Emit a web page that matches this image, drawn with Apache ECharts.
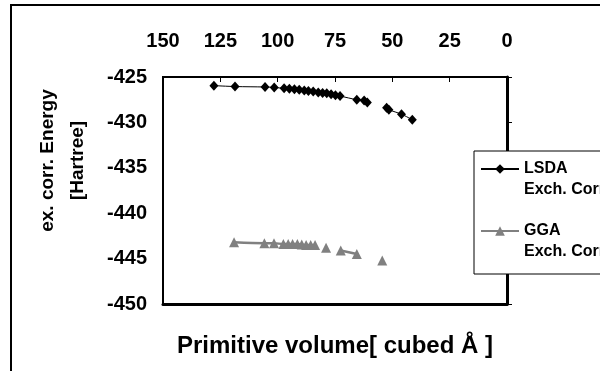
<!DOCTYPE html>
<html><head><meta charset="utf-8">
<script src="https://cdn.jsdelivr.net/npm/echarts@6/dist/echarts.min.js"></script>
<style>html,body{margin:0;padding:0;background:#fff}#c{width:600px;height:371px}</style>
</head><body><div id="c"></div>
<script>
// Axis ranges / ticks
const volumeMin = 0, volumeMax = 150, volumeStep = 25;
const energyMin = -450, energyMax = -425, energyStep = 5;

// Series names
const lsdaName = 'LSDA Exch. Corr.';
const ggaName = 'GGA Exch. Corr.';

// LSDA exchange-correlation energy vs primitive volume (null = gap in line)
const lsdaVolume = [127.8, 118.6, 105.5, 101.5, 97.2, 94.9, 92.7, 90.6, 88.4, 86.6, 84.5, 82.3, 80.4, 78.6, 76.7, 74.8, 72.8, 65.5, 62.3, 60.9, null, 52.5, 51.5, 46.0, 41.3];
const lsdaEnergy = [-425.95, -426.05, -426.1, -426.15, -426.25, -426.3, -426.35, -426.4, -426.5, -426.55, -426.6, -426.7, -426.75, -426.8, -426.9, -427.0, -427.1, -427.5, -427.6, -427.8, null, -428.4, -428.6, -429.1, -429.7];

// GGA exchange-correlation energy vs primitive volume (null = gap in line)
const ggaVolume = [119.0, 105.8, 101.6, 97.5, 95.4, 93.5, 91.4, 89.5, 87.6, 85.6, 83.7, null, 78.9, null, 72.5, 65.5, null, 54.4];
const ggaEnergy = [-443.2, -443.3, -443.3, -443.4, -443.4, -443.4, -443.4, -443.45, -443.5, -443.5, -443.5, null, -443.8, null, -444.1, -444.5, null, -445.2];

const FONT = "'Liberation Sans', Arial, sans-serif";
function pairs(xs, ys) {
  return xs.map((x, i) => (x == null || ys[i] == null) ? ['-', '-'] : [x, ys[i]]);
}

const chart = echarts.init(document.getElementById('c'), null, {renderer: 'canvas'});
chart.setOption({
  animation: false,
  backgroundColor: '#fff',
  graphic: [{
    type: 'rect', z: 0, silent: true,
    shape: {x: 11, y: 5, width: 900, height: 600},
    style: {fill: 'none', stroke: '#000', lineWidth: 2}
  }],
  grid: {left: 163, top: 77, width: 344, height: 227, show: true, borderColor: '#000', borderWidth: 2, backgroundColor: 'transparent'},
  xAxis: [{
    type: 'value', position: 'top', min: volumeMin, max: volumeMax, interval: volumeStep, inverse: true,
    axisLine: {show: true, lineStyle: {color: '#000', width: 2}},
    axisTick: {show: true, inside: true, length: 5, lineStyle: {color: '#000', width: 1}},
    splitLine: {show: false},
    axisLabel: {color: '#000', fontFamily: FONT, fontWeight: 'bold', fontSize: 20, margin: 26}
  }, {
    type: 'value', position: 'bottom', min: volumeMin, max: volumeMax, interval: volumeStep, inverse: true,
    axisLine: {show: true, lineStyle: {color: '#000', width: 3}},
    axisTick: {show: false}, axisLabel: {show: false}, splitLine: {show: false},
    name: 'Primitive volume[ cubed Å ]', nameLocation: 'middle', nameGap: 30,
    nameTextStyle: {color: '#000', fontFamily: FONT, fontWeight: 'bold', fontSize: 24}
  }],
  yAxis: [{
    type: 'value', position: 'left', min: energyMin, max: energyMax, interval: energyStep,
    axisLine: {show: true, lineStyle: {color: '#000', width: 3}},
    axisTick: {show: false},
    splitLine: {show: false},
    axisLabel: {color: '#000', fontFamily: FONT, fontWeight: 'bold', fontSize: 20, margin: 16},
    name: 'ex. corr. Energy\n[Hartree]', nameLocation: 'middle', nameGap: 70, nameRotate: 90,
    nameTextStyle: {color: '#000', fontFamily: FONT, fontWeight: 'bold', fontSize: 19, lineHeight: 30, align: 'center', padding: [0, 0, 0, 60]}
  }, {
    type: 'value', position: 'right', min: energyMin, max: energyMax, interval: energyStep,
    axisLine: {show: false},
    axisTick: {show: true, inside: false, length: 5, lineStyle: {color: '#000', width: 1}},
    axisLabel: {show: false}, splitLine: {show: false}
  }],
  legend: {
    orient: 'vertical', left: 474, top: 151,
    padding: [-13.5, 200, 11.5, 6],
    itemWidth: 38, itemHeight: 12, itemGap: -1,
    backgroundColor: '#fff', borderColor: '#000', borderWidth: 1,
    data: [lsdaName, ggaName],
    formatter: n => '\n' + n.replace(' Exch', '\nExch'),
    textStyle: {color: '#000', fontFamily: FONT, fontWeight: 'bold', fontSize: 16, lineHeight: 21}
  },
  series: [{
    name: lsdaName, type: 'line', xAxisIndex: 0, yAxisIndex: 0,
    data: pairs(lsdaVolume, lsdaEnergy),
    symbol: 'diamond', symbolSize: [9, 10], smooth: 0.3, connectNulls: false,
    itemStyle: {color: '#000'}, lineStyle: {color: '#000', width: 1}
  }, {
    name: ggaName, type: 'line', xAxisIndex: 0, yAxisIndex: 0,
    data: pairs(ggaVolume, ggaEnergy),
    symbol: 'triangle', symbolSize: 10, smooth: 0.3, connectNulls: false,
    itemStyle: {color: '#808080'}, lineStyle: {color: '#808080', width: 2.5}
  }]
});
</script>
</body></html>
